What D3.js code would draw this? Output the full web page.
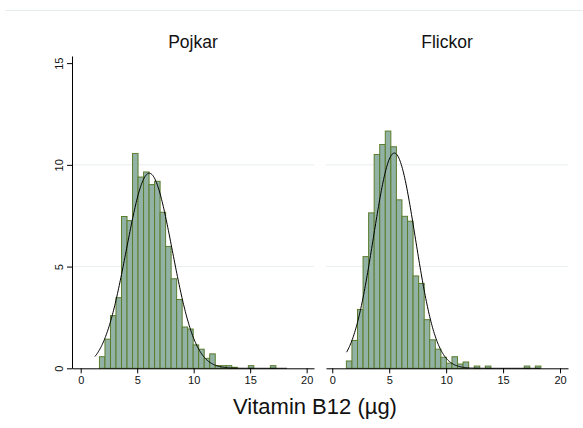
<!DOCTYPE html>
<html>
<head>
<meta charset="utf-8">
<script src="https://cdn.jsdelivr.net/npm/d3@7"></script>
<style>
  html, body { margin: 0; padding: 0; background: #fff; }
  svg { display: block; font-family: "Liberation Sans", Arial, sans-serif; }
</style>
</head>
<body>
<svg id="chart" width="583" height="428"></svg>
<script>
// Histogram bins (percent of each group), common bin width in µg
const binWidth = 0.488;
const pojkarStart = 1.66;
const flickorStart = 1.24;
const pojkarPct = [0.57, 1.43, 2.59, 3.47, 7.46, 7.26, 10.56, 9.40, 9.65, 9.03,
                   9.19, 7.67, 5.99, 4.40, 3.38, 2.03, 1.93, 1.15, 0.94, 0.49,
                   0.71, 0.13, 0.13, 0.13, 0.05, 0, 0, 0.13, 0, 0, 0, 0.13];
const flickorPct = [0.36, 1.37, 2.89, 5.49, 7.64, 10.51, 11.00, 11.66, 10.89, 8.28,
                    7.47, 7.23, 4.54, 4.17, 2.39, 1.40, 0.94, 0.54, 0.25, 0.57,
                    0.21, 0.31, 0, 0.11, 0, 0.11, 0, 0, 0, 0, 0, 0, 0.11, 0, 0.11];

// Fitted normal curves (mean, sd) drawn over the pooled data range
const pojkarNormal = { mean: 6.07, sd: 2.03 };
const flickorNormal = { mean: 5.45, sd: 1.84 };
const curveRange = [1.26, 18.3];

const panelTitles = ["Pojkar", "Flickor"];
const xTicks = [0, 5, 10, 15, 20];
const yTicks = [0, 5, 10, 15];
const xTitle = "Vitamin B12 (µg)";

const svg = d3.select("#chart");
const fillColor = "#92b2a6";
const edgeColor = "#5b7d2c";
const gridColor = "#e9efef";

// faint frame line along the top of the graph region
svg.append("line")
  .attr("x1", 5).attr("x2", 583).attr("y1", 10.5).attr("y2", 10.5)
  .attr("stroke", "#e6eded").attr("stroke-width", 1);

const y = d3.scaleLinear().domain([0, 15.35]).range([368.3, 56]);

const panels = [
  { title: panelTitles[0], start: pojkarStart, pct: pojkarPct, normal: pojkarNormal,
    x: d3.scaleLinear().domain([-0.77, 20.65]).range([72, 314]), yAxis: true },
  { title: panelTitles[1], start: flickorStart, pct: flickorPct, normal: flickorNormal,
    x: d3.scaleLinear().domain([-0.55, 20.7]).range([326, 568]), yAxis: false }
];

panels.forEach(p => {
  const g = svg.append("g");
  const [r0, r1] = p.x.range();

  // horizontal grid lines
  g.selectAll("line.grid").data([5, 10]).join("line")
    .attr("class", "grid")
    .attr("x1", r0).attr("x2", r1)
    .attr("y1", d => y(d)).attr("y2", d => y(d))
    .attr("stroke", gridColor).attr("stroke-width", 1);

  // histogram bars
  const bins = p.pct.map((v, i) => ({ x0: p.start + i * binWidth, v }))
    .filter(d => d.v > 0);
  g.selectAll("rect").data(bins).join("rect")
    .attr("x", d => p.x(d.x0))
    .attr("width", d => p.x(d.x0 + binWidth) - p.x(d.x0))
    .attr("y", d => y(d.v))
    .attr("height", d => y(0) - y(d.v))
    .attr("fill", fillColor)
    .attr("stroke", edgeColor)
    .attr("stroke-width", 1);

  // normal density scaled to percent per bin
  const n = p.normal;
  const dens = xv => 100 * binWidth * Math.exp(-0.5 * ((xv - n.mean) / n.sd) ** 2) / (n.sd * Math.sqrt(2 * Math.PI));
  const pts = d3.range(curveRange[0], curveRange[1] + 1e-9, 0.05).map(xv => [xv, dens(xv)]);
  g.append("path")
    .datum(pts)
    .attr("d", d3.line().x(d => p.x(d[0])).y(d => y(d[1])))
    .attr("fill", "none")
    .attr("stroke", "#000")
    .attr("stroke-width", 1);

  // x axis
  const xa = g.append("g")
    .attr("transform", `translate(0,${y(0)})`)
    .call(d3.axisBottom(p.x).tickValues(xTicks).tickSize(5).tickSizeOuter(0).tickPadding(3));
  xa.select(".domain").attr("stroke", "#000");
  xa.selectAll(".tick line").attr("stroke", "#000");
  xa.selectAll(".tick text").attr("font-size", 11).attr("fill", "#111")
    .attr("font-family", "Liberation Sans, Arial, sans-serif");

  // y axis (left panel only)
  if (p.yAxis) {
    const ya = g.append("g")
      .attr("transform", `translate(${r0},0)`)
      .call(d3.axisLeft(y).tickValues(yTicks).tickSize(5).tickSizeOuter(0).tickFormat(d3.format("d")));
    ya.select(".domain").attr("stroke", "#000");
    ya.selectAll(".tick line").attr("stroke", "#000");
    ya.selectAll(".tick text")
      .attr("font-size", 11).attr("fill", "#111")
      .attr("font-family", "Liberation Sans, Arial, sans-serif")
      .attr("text-anchor", "middle")
      .attr("dy", null)
      .attr("x", null)
      .attr("transform", "translate(-9,0) rotate(-90)")
      .attr("y", 0);
  }

  // panel title
  svg.append("text")
    .attr("x", (r0 + r1) / 2)
    .attr("y", 48)
    .attr("text-anchor", "middle")
    .attr("font-size", 17.5)
    .attr("fill", "#111")
    .text(p.title);
});

// common x-axis title
svg.append("text")
  .attr("x", 315)
  .attr("y", 414)
  .attr("text-anchor", "middle")
  .attr("font-size", 22)
  .attr("fill", "#111")
  .text(xTitle);
</script>
</body>
</html>
